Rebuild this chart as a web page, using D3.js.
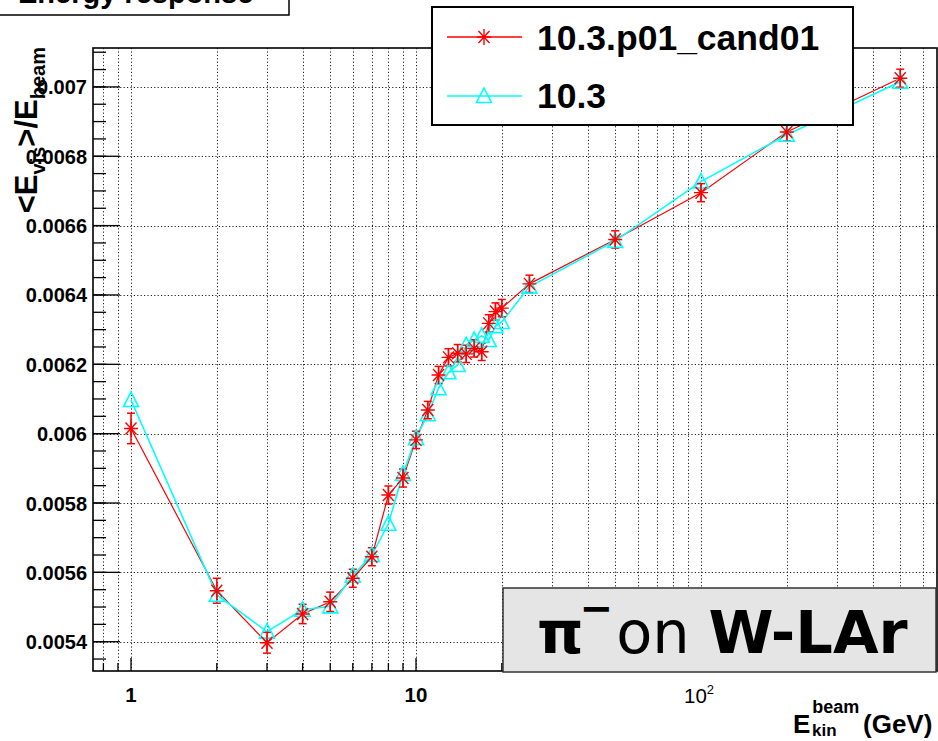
<!DOCTYPE html>
<meta charset="utf-8">
<style>
  body { margin: 0; background: #fff; }
  text { font-family: "Liberation Sans", Arial, sans-serif; }
</style>
<body>
<script src="https://cdn.jsdelivr.net/npm/d3@7"></script>
<script>

    var width = 938,
        height = 741;

    // beam kinetic energy (GeV)
    var energies = [1, 2, 3, 4, 5, 6, 7, 8, 9, 10, 11, 12, 13, 14, 15, 16, 17, 18, 19, 20, 25, 50, 100, 200, 500];

    // 10.3.p01_cand01
    var cand01 = [0.006015, 0.005547, 0.005397, 0.005480, 0.005515, 0.005583, 0.005645, 0.005823, 0.005872, 0.005982,
                  0.006068, 0.006169, 0.006220, 0.006232, 0.006230, 0.006246, 0.006236, 0.006318, 0.006352, 0.006362,
                  0.006432, 0.006560, 0.006695, 0.006870, 0.007025];
    var cand01Err = [0.000044, 0.000036, 0.000030, 0.000028, 0.000028, 0.000026, 0.000026, 0.000026, 0.000026, 0.000025,
                     0.000025, 0.000025, 0.000025, 0.000025, 0.000025, 0.000025, 0.000025, 0.000025, 0.000025, 0.000025,
                     0.000025, 0.000025, 0.000026, 0.000026, 0.000026];

    // 10.3
    var ref103 = [0.006097, 0.005535, 0.005429, 0.005492, 0.005502, 0.005590, 0.005650, 0.005740, 0.005884, 0.005987,
                  0.006056, 0.006131, 0.006177, 0.006198, 0.006255, 0.006270, 0.006282, 0.006270, 0.006310, 0.006322,
                  0.006424, 0.006556, 0.006727, 0.006862, 0.007015];

    var yTicks = [0.0054, 0.0056, 0.0058, 0.006, 0.0062, 0.0064, 0.0066, 0.0068, 0.007];
    var yTickLabels = ["0.0054", "0.0056", "0.0058", "0.006", "0.0062", "0.0064", "0.0066", "0.0068", "0.007"];
    var xMajor = [1, 10, 100];

    var frame = {left: 93, right: 937, top: 48, bottom: 671};

    var x = d3.scaleLog().domain([0.7356, 673]).range([frame.left, frame.right]);
    var y = d3.scaleLinear().domain([0.0053155, 0.0071122]).range([frame.bottom, frame.top]);

    var svg = d3.select("body").append("svg")
            .attr("width", width)
            .attr("height", height);

    svg.append("rect").attr("width", width).attr("height", height).attr("fill", "#fff");

    // all log ticks inside the frame (used for grid + minor ticks)
    var xAll = [];
    [0.1, 1, 10, 100].forEach(function(dec) {
        for (var k = 1; k < 10; k++) {
            var v = dec * k;
            if (v >= x.domain()[0] && v <= x.domain()[1]) xAll.push(v);
        }
    });

    var yMinor = d3.range(0.00535, 0.00711, 0.00005);

    //网格
    var grid = svg.append("g")
            .attr("stroke", "#222")
            .attr("stroke-width", 1)
            .attr("stroke-dasharray", "1.2,2.2");

    grid.selectAll(".gx").data(xAll).enter().append("line")
            .attr("x1", function(d) { return Math.round(x(d)) + 0.5; })
            .attr("x2", function(d) { return Math.round(x(d)) + 0.5; })
            .attr("y1", frame.top)
            .attr("y2", frame.bottom);

    grid.selectAll(".gy").data(yTicks).enter().append("line")
            .attr("x1", frame.left)
            .attr("x2", frame.right)
            .attr("y1", function(d) { return Math.round(y(d)) + 0.5; })
            .attr("y2", function(d) { return Math.round(y(d)) + 0.5; });

    // ticks
    var ticks = svg.append("g").attr("stroke", "#000").attr("stroke-width", 1.3);

    ticks.selectAll(".tx").data(xAll).enter().append("line")
            .attr("x1", function(d) { return x(d); })
            .attr("x2", function(d) { return x(d); })
            .attr("y1", frame.bottom)
            .attr("y2", function(d) { return frame.bottom - (xMajor.indexOf(d) >= 0 ? 13 : 8); });

    ticks.selectAll(".tym").data(yMinor).enter().append("line")
            .attr("x1", frame.left)
            .attr("x2", frame.left + 13)
            .attr("y1", function(d) { return y(d); })
            .attr("y2", function(d) { return y(d); });

    ticks.selectAll(".ty").data(yTicks).enter().append("line")
            .attr("x1", frame.left)
            .attr("x2", frame.left + 27)
            .attr("y1", function(d) { return y(d); })
            .attr("y2", function(d) { return y(d); });

    // frame
    svg.append("rect")
            .attr("x", frame.left).attr("y", frame.top)
            .attr("width", frame.right - frame.left)
            .attr("height", frame.bottom - frame.top)
            .attr("fill", "none").attr("stroke", "#000").attr("stroke-width", 1.6);

    // y tick labels
    svg.append("g").selectAll("text").data(yTicks).enter().append("text")
            .attr("x", 87)
            .attr("y", function(d) { return y(d) + 7.5; })
            .attr("text-anchor", "end")
            .attr("font-size", 20)
            .attr("font-weight", "bold")
            .text(function(d, i) { return yTickLabels[i]; });

    // x tick labels
    var xl = svg.append("g").attr("font-size", 20.5).attr("font-weight", "bold").attr("text-anchor", "middle");
    xl.append("text").attr("x", x(1)).attr("y", 702).text("1");
    xl.append("text").attr("x", x(10)).attr("y", 702).text("10");
    var t100 = xl.append("text").attr("x", x(100) - 2).attr("y", 703).attr("font-weight", "normal");
    t100.append("tspan").text("10");
    t100.append("tspan").attr("font-size", 13).attr("dy", -9).text("2");

    // series
    var pts1 = energies.map(function(e, i) { return {x: e, y: cand01[i], err: cand01Err[i]}; });
    var pts2 = energies.map(function(e, i) { return {x: e, y: ref103[i]}; });

    var line = d3.line()
            .x(function(d) { return x(d.x); })
            .y(function(d) { return y(d.y); });

    var star = "M-7,0H7M0,-8V8M-5.5,-6L5.5,6M-5.5,6L5.5,-6";
    var tri = "M0,-8L7.5,6.5L-7.5,6.5Z";

    svg.append("path").datum(pts1)
            .attr("d", line)
            .attr("fill", "none").attr("stroke", "#ff0000").attr("stroke-width", 1.2);

    svg.append("path").datum(pts2)
            .attr("d", line)
            .attr("fill", "none").attr("stroke", "#00ffff").attr("stroke-width", 1.6);

    var eb = svg.append("g").attr("stroke", "#ff0000").attr("stroke-width", 1.5);
    pts1.forEach(function(d) {
        var cx = x(d.x), y1 = y(d.y - d.err), y2 = y(d.y + d.err);
        eb.append("line").attr("x1", cx).attr("x2", cx).attr("y1", y1).attr("y2", y2);
        eb.append("line").attr("x1", cx - 4).attr("x2", cx + 4).attr("y1", y1).attr("y2", y1);
        eb.append("line").attr("x1", cx - 4).attr("x2", cx + 4).attr("y1", y2).attr("y2", y2);
    });

    svg.append("g").selectAll("path").data(pts2).enter().append("path")
            .attr("d", tri)
            .attr("transform", function(d) { return "translate(" + x(d.x) + "," + y(d.y) + ")"; })
            .attr("fill", "none").attr("stroke", "#00ffff").attr("stroke-width", 1.6);

    svg.append("g").selectAll("path").data(pts1).enter().append("path")
            .attr("d", star)
            .attr("transform", function(d) { return "translate(" + x(d.x) + "," + y(d.y) + ")"; })
            .attr("fill", "none").attr("stroke", "#ff0000").attr("stroke-width", 1.4);

    // legend
    var leg = svg.append("g");
    leg.append("rect").attr("x", 432).attr("y", 7).attr("width", 421).attr("height", 118)
            .attr("fill", "#fff").attr("stroke", "#000").attr("stroke-width", 2);
    leg.append("line").attr("x1", 447).attr("x2", 522).attr("y1", 37).attr("y2", 37)
            .attr("stroke", "#ff0000").attr("stroke-width", 1.4);
    leg.append("path").attr("d", star).attr("transform", "translate(484,37)")
            .attr("fill", "none").attr("stroke", "#ff0000").attr("stroke-width", 1.4);
    leg.append("line").attr("x1", 447).attr("x2", 522).attr("y1", 96).attr("y2", 96)
            .attr("stroke", "#00ffff").attr("stroke-width", 1.6);
    leg.append("path").attr("d", tri).attr("transform", "translate(484,96)")
            .attr("fill", "none").attr("stroke", "#00ffff").attr("stroke-width", 1.6);
    leg.append("text").attr("x", 537).attr("y", 50).attr("font-size", 35.5).attr("font-weight", "bold")
            .text("10.3.p01_cand01");
    leg.append("text").attr("x", 537).attr("y", 108).attr("font-size", 35.5).attr("font-weight", "bold")
            .text("10.3");

    // π⁻ on W-LAr box
    svg.append("rect").attr("x", 503).attr("y", 588).attr("width", 433).attr("height", 84)
            .attr("fill", "#e5e5e5").attr("stroke", "#333").attr("stroke-width", 1.5);
    var pt = svg.append("text").attr("x", 537).attr("y", 653)
            .style("font-family", "'DejaVu Sans', sans-serif")
            .attr("font-size", 59);
    pt.append("tspan").attr("font-weight", "bold").text("π");
    pt.append("tspan").attr("font-weight", "bold").attr("font-size", 40).attr("dy", -31).attr("dx", -4).text("−");
    pt.append("tspan").attr("dy", 31).attr("dx", 3).text("on ");
    pt.append("tspan").attr("font-weight", "bold").text("W-LAr");

    // y axis title
    var yt = svg.append("text")
            .attr("transform", "translate(37,47) rotate(-90)")
            .attr("text-anchor", "end")
            .attr("font-size", 31)
            .attr("font-weight", "bold");
    yt.append("tspan").text("<E");
    yt.append("tspan").attr("font-size", 20).attr("dy", 8).text("vis");
    yt.append("tspan").attr("dy", -8).text(">/E");
    yt.append("tspan").attr("font-size", 20).attr("dy", 8).text("beam");

    // x axis title
    var xt = svg.append("text")
            .attr("x", 793).attr("y", 733)
            .attr("font-size", 26)
            .attr("font-weight", "bold");
    xt.append("tspan").text("E");
    xt.append("tspan").attr("font-size", 18).attr("dy", -20).attr("dx", 2).text("beam");
    xt.append("tspan").attr("font-size", 17).attr("x", 812).attr("dy", 23).text("kin");
    xt.append("tspan").attr("x", 863).attr("dy", -3).text("(GeV)");

    // title box (cut off at the top)
    svg.append("rect").attr("x", -2).attr("y", -20).attr("width", 291).attr("height", 35)
            .attr("fill", "#fff").attr("stroke", "#000").attr("stroke-width", 1.5);
    svg.append("text").attr("x", 18).attr("y", 3)
            .attr("font-size", 29).attr("font-weight", "bold")
            .text("Energy response");

</script>
